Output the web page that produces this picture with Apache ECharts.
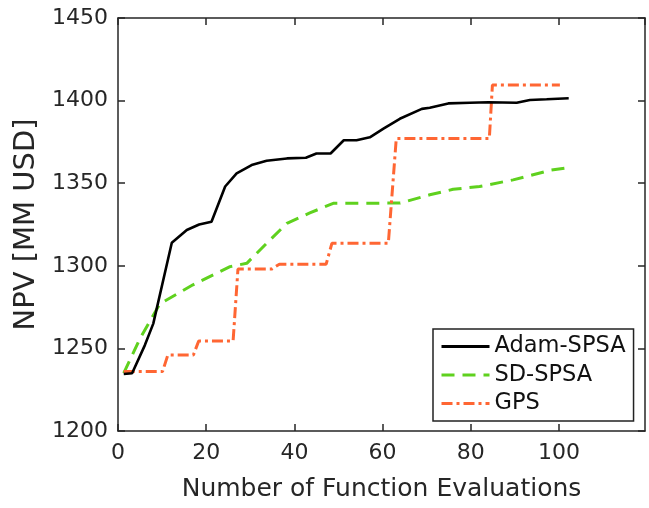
<!DOCTYPE html>
<html>
<head>
<meta charset="utf-8">
<script src="https://cdn.jsdelivr.net/npm/echarts@6/dist/echarts.min.js"></script>
<style>
html,body{margin:0;padding:0;background:#fff;}
#chart{width:649px;height:508px;}
</style>
</head>
<body>
<div id="chart"></div>
<script>
// ---- data ----
var seriesNames = ['Adam-SPSA', 'SD-SPSA', 'GPS'];

var adamX = [1.3, 3.2, 6.1, 8, 12.2, 15.6, 18.4, 21.2, 24.3, 26.9, 30.3, 33.7, 38.3, 42.6, 45, 48.2, 51.2, 54.1, 57.1, 60.2, 63.9, 68.9, 70.7, 74.9, 79.8, 84, 90.4, 93.4, 97.2, 102.2];
var adamY = [1234.5, 1235, 1252, 1265, 1314, 1321.7, 1325, 1326.7, 1348, 1356, 1361, 1363.6, 1365, 1365.4, 1368, 1368, 1376, 1376, 1377.8, 1383, 1389, 1395, 1395.7, 1398.3, 1398.7, 1399, 1398.7, 1400.4, 1400.8, 1401.4];

var sdX = [1.3, 5, 9.5, 17, 25.4, 29.2, 33.7, 38.3, 43.5, 48.8, 64, 70.7, 76, 82, 89.6, 98.3, 102.5];
var sdY = [1235, 1256, 1277, 1288.5, 1299.5, 1301.5, 1313.6, 1325.7, 1332, 1337.8, 1338, 1343, 1346.3, 1348, 1352, 1358, 1359.6];

var gpsX = [1.3, 10.1, 11.3, 17.1, 18.3, 26.1, 27.2, 34.8, 36.6, 47.2, 48.5, 61.3, 63.1, 84.2, 84.9, 100.2];
var gpsY = [1236, 1236, 1246, 1246, 1254.5, 1254.5, 1298, 1298, 1301, 1301, 1313.6, 1313.6, 1377, 1377, 1409.4, 1409.4];

var xTicks = {min: 0, max: 119.5, interval: 20};
var yTicks = {min: 1200, max: 1450, interval: 50};
var xName = 'Number of Function Evaluations';
var yName = 'NPV [MM USD]';

function pairs(xs, ys) { return xs.map(function (x, i) { return [x, ys[i]]; }); }

var FONT = 'DejaVu Sans';
var AX = '#262626';

var chart = echarts.init(document.getElementById('chart'), null, {renderer: 'canvas'});
chart.setOption({
  animation: false,
  backgroundColor: '#fff',
  grid: {left: 118, top: 18, right: 4, bottom: 77, containLabel: false},
  legend: {
    orient: 'vertical',
    left: 433, top: 329,
    data: seriesNames,
    itemWidth: 48, itemHeight: 22, itemGap: 5.5,
    padding: [6, 8, 6, 7],
    borderColor: '#222', borderWidth: 1.5,
    backgroundColor: '#fff',
    itemStyle: {opacity: 0},
    lineStyle: {width: 3},
    textStyle: {fontFamily: FONT, fontSize: 22.5, color: '#111'}
  },
  xAxis: [{
    type: 'value', position: 'bottom',
    min: xTicks.min, max: xTicks.max, interval: xTicks.interval,
    name: xName, nameLocation: 'middle', nameGap: 46,
    nameTextStyle: {fontFamily: FONT, fontSize: 25, color: '#262626'},
    axisLine: {show: true, onZero: false, lineStyle: {color: AX, width: 1.5}},
    axisTick: {show: true, inside: true, length: 7, lineStyle: {color: AX, width: 1.5}},
    axisLabel: {fontFamily: FONT, fontSize: 22, color: '#262626', margin: 11, showMaxLabel: false},
    splitLine: {show: false}
  }, {
    type: 'value', position: 'top',
    min: xTicks.min, max: xTicks.max, interval: xTicks.interval,
    axisLine: {show: true, onZero: false, lineStyle: {color: AX, width: 1.5}},
    axisTick: {show: true, inside: true, length: 7, lineStyle: {color: AX, width: 1.5}},
    axisLabel: {show: false},
    splitLine: {show: false}
  }],
  yAxis: [{
    type: 'value', position: 'left',
    min: yTicks.min, max: yTicks.max, interval: yTicks.interval,
    name: yName, nameLocation: 'middle', nameGap: 62, nameRotate: 90,
    nameTextStyle: {fontFamily: FONT, fontSize: 29, color: '#262626'},
    axisLine: {show: true, onZero: false, lineStyle: {color: AX, width: 1.5}},
    axisTick: {show: true, inside: true, length: 7, lineStyle: {color: AX, width: 1.5}},
    axisLabel: {fontFamily: FONT, fontSize: 22, color: '#262626', margin: 10,
      formatter: function (v) { return String(v); }},
    splitLine: {show: false}
  }, {
    type: 'value', position: 'right',
    min: yTicks.min, max: yTicks.max, interval: yTicks.interval,
    axisLine: {show: true, onZero: false, lineStyle: {color: AX, width: 1.5}},
    axisTick: {show: true, inside: true, length: 7, lineStyle: {color: AX, width: 1.5}},
    axisLabel: {show: false},
    splitLine: {show: false}
  }],
  series: [{
    name: seriesNames[0], type: 'line', xAxisIndex: 0, yAxisIndex: 0,
    data: pairs(adamX, adamY), symbol: 'none', smooth: false, z: 3,
    lineStyle: {color: '#000', width: 2.6, type: 'solid'},
    itemStyle: {color: '#000'}
  }, {
    name: seriesNames[1], type: 'line', xAxisIndex: 0, yAxisIndex: 0,
    data: pairs(sdX, sdY), symbol: 'none', smooth: false, z: 2,
    lineStyle: {color: '#5fd11e', width: 3, type: [13, 8]},
    itemStyle: {color: '#5fd11e'}
  }, {
    name: seriesNames[2], type: 'line', xAxisIndex: 0, yAxisIndex: 0,
    data: pairs(gpsX, gpsY), symbol: 'none', smooth: false, z: 2,
    lineStyle: {color: '#ff6633', width: 3, type: [11, 4, 3, 4]},
    itemStyle: {color: '#ff6633'}
  }]
});
</script>
</body>
</html>
